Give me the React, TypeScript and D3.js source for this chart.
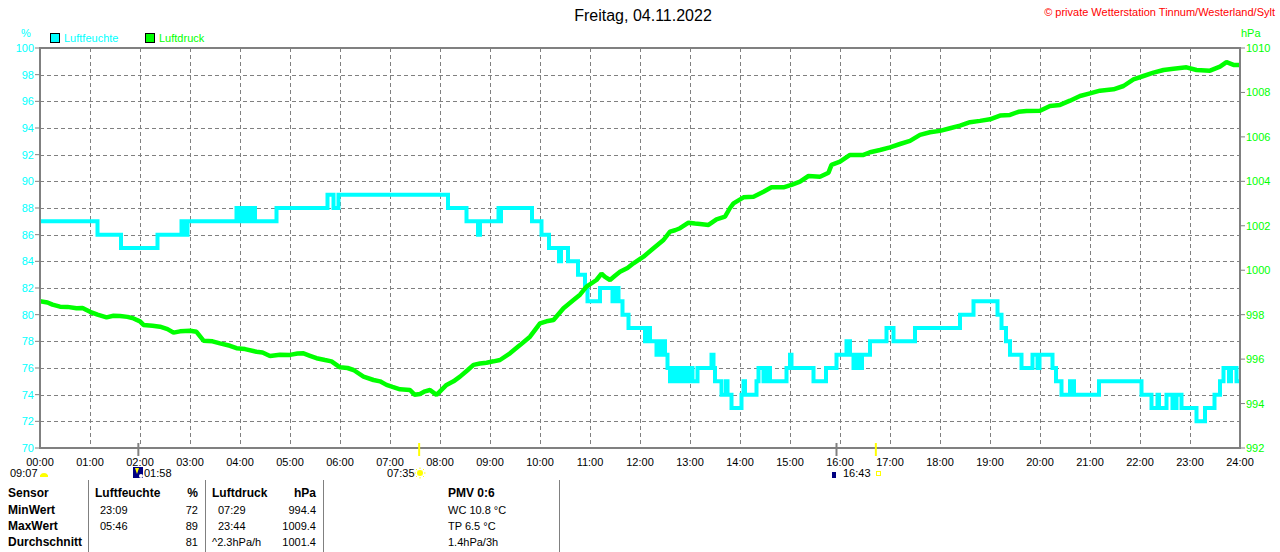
import { useEffect, useRef } from 'react';
import * as d3 from 'd3';

const hourTicks = d3.range(0, 25);
const humTicks = d3.range(70, 101, 2);
const pressTicks = d3.range(992, 1011, 2);

// [hour, %] step values
const humidity: [number, number][] = [
  [0, 87], [1.15, 86], [1.62, 85], [2.35, 86], [2.83, 87], [2.86, 86], [2.9, 87], [2.93, 86], [2.95, 87],
  [3.93, 88], [3.98, 87], [4.02, 88], [4.08, 87], [4.12, 88], [4.18, 87], [4.22, 88], [4.3, 87],
  [4.73, 88], [5.75, 89], [5.87, 88], [5.97, 89], [8.16, 88], [8.53, 87], [8.76, 86], [8.8, 87],
  [9.17, 88], [9.2, 87], [9.22, 88], [9.84, 87], [10.03, 86], [10.18, 85], [10.38, 84], [10.42, 85],
  [10.56, 84], [10.76, 83], [10.9, 82], [10.95, 81], [11.2, 82], [11.45, 81], [11.53, 82], [11.57, 81],
  [11.65, 80], [11.77, 79], [12.1, 78], [12.17, 79], [12.2, 78], [12.33, 77], [12.37, 78], [12.42, 77],
  [12.47, 78], [12.5, 77], [12.55, 76], [12.6, 75], [12.65, 76], [12.7, 75], [12.78, 76], [12.82, 75],
  [12.88, 76], [12.95, 75], [13.0, 76], [13.05, 75], [13.15, 76], [13.43, 77], [13.47, 76], [13.5, 75],
  [13.63, 74], [13.72, 75], [13.75, 74], [13.83, 73], [14.03, 74], [14.07, 75], [14.1, 74], [14.33, 75],
  [14.37, 76], [14.47, 75], [14.55, 76], [14.6, 75], [14.93, 76], [15.0, 77], [15.03, 76], [15.47, 75],
  [15.72, 76], [15.93, 77], [16.13, 78], [16.2, 77], [16.27, 76], [16.33, 77], [16.38, 76], [16.44, 77],
  [16.6, 78], [16.93, 79], [17.07, 78], [17.5, 79], [18.4, 80], [18.67, 81], [19.15, 80], [19.23, 79],
  [19.32, 78], [19.4, 77], [19.63, 76], [19.85, 77], [19.95, 76], [19.99, 77], [20.25, 76], [20.32, 75],
  [20.43, 74], [20.6, 75], [20.68, 74], [21.18, 75], [22.03, 74], [22.23, 73], [22.35, 74], [22.38, 73],
  [22.53, 74], [22.65, 73], [22.73, 74], [22.83, 73], [23.13, 72], [23.3, 73], [23.49, 74], [23.6, 75],
  [23.67, 76], [23.78, 75], [23.82, 76], [23.93, 75], [24, 75],
];

// [hour, hPa]
const pressure: [number, number][] = [
  [0, 998.6], [0.15, 998.55], [0.25, 998.45], [0.4, 998.36], [0.55, 998.35], [0.73, 998.29], [0.85, 998.3],
  [1.0, 998.13], [1.15, 998.0], [1.33, 997.88], [1.47, 997.95], [1.6, 997.94], [1.75, 997.9], [1.87, 997.83],
  [2.0, 997.7], [2.07, 997.54], [2.25, 997.5], [2.4, 997.46], [2.55, 997.35], [2.67, 997.19], [2.8, 997.25],
  [3.0, 997.28], [3.13, 997.23], [3.27, 996.83], [3.45, 996.8], [3.6, 996.71], [3.8, 996.6], [3.93, 996.49],
  [4.1, 996.45], [4.33, 996.33], [4.45, 996.3], [4.6, 996.14], [4.8, 996.2], [5.0, 996.19], [5.15, 996.25],
  [5.27, 996.26], [5.4, 996.15], [5.53, 996.04], [5.7, 995.96], [5.83, 995.9], [6.0, 995.63], [6.15, 995.6],
  [6.27, 995.51], [6.47, 995.21], [6.67, 995.06], [6.8, 995.0], [6.93, 994.84], [7.05, 994.75], [7.2, 994.64],
  [7.4, 994.61], [7.49, 994.4], [7.6, 994.43], [7.7, 994.55], [7.8, 994.61], [7.93, 994.39], [8.13, 994.84],
  [8.27, 995.0], [8.4, 995.21], [8.55, 995.5], [8.67, 995.74], [8.8, 995.8], [8.93, 995.84], [9.07, 995.9],
  [9.2, 995.96], [9.4, 996.26], [9.6, 996.63], [9.8, 997.01], [10.0, 997.61], [10.13, 997.7], [10.27, 997.76],
  [10.47, 998.29], [10.67, 998.66], [10.8, 998.9], [10.93, 999.26], [11.13, 999.56], [11.23, 999.85],
  [11.3, 999.7], [11.4, 999.56], [11.5, 999.75], [11.6, 999.93], [11.75, 1000.1], [11.87, 1000.31],
  [12.07, 1000.61], [12.27, 1000.99], [12.47, 1001.36], [12.6, 1001.74], [12.7, 1001.8], [12.8, 1001.89],
  [12.97, 1002.14], [13.1, 1002.1], [13.2, 1002.08], [13.37, 1002.04], [13.53, 1002.29], [13.7, 1002.41],
  [13.8, 1002.8], [13.87, 1003.01], [14.07, 1003.28], [14.27, 1003.31], [14.47, 1003.53], [14.63, 1003.73],
  [14.87, 1003.73], [15.03, 1003.84], [15.2, 1003.99], [15.37, 1004.24], [15.6, 1004.21], [15.77, 1004.39],
  [15.83, 1004.74], [16.0, 1004.89], [16.2, 1005.19], [16.47, 1005.19], [16.6, 1005.31], [16.8, 1005.41],
  [17.0, 1005.53], [17.2, 1005.68], [17.4, 1005.82], [17.6, 1006.09], [17.8, 1006.21], [18.0, 1006.27],
  [18.2, 1006.39], [18.4, 1006.51], [18.6, 1006.66], [18.8, 1006.72], [19.0, 1006.79], [19.2, 1006.96],
  [19.4, 1006.99], [19.57, 1007.13], [19.73, 1007.17], [20.0, 1007.18], [20.2, 1007.39], [20.4, 1007.44],
  [20.6, 1007.63], [20.8, 1007.84], [21.0, 1007.96], [21.2, 1008.08], [21.47, 1008.14], [21.67, 1008.29],
  [21.87, 1008.59], [22.07, 1008.74], [22.27, 1008.89], [22.47, 1009.01], [22.67, 1009.07], [22.93, 1009.13],
  [23.13, 1009.01], [23.4, 1008.98], [23.6, 1009.16], [23.73, 1009.36], [23.87, 1009.24], [24.0, 1009.24],
];

// sun / moon markers on the time axis
const markers = [
  { t: 1.967, color: '#808080' },
  { t: 7.583, color: '#ffff00' },
  { t: 15.93, color: '#808080' },
  { t: 16.717, color: '#ffff00' },
];

const rowLabels = ['Sensor', 'MinWert', 'MaxWert', 'Durchschnitt'];
const humTimes = ['Luftfeuchte', '23:09', '05:46', ''];
const humVals = ['%', '72', '89', '81'];
const pressTimes = ['Luftdruck', '07:29', '23:44', '^2.3hPa/h'];
const pressVals = ['hPa', '994.4', '1009.4', '1001.4'];
const extra = ['PMV 0:6', 'WC 10.8 °C', 'TP 6.5 °C', '1.4hPa/3h'];

const CYAN = '#00ffff';
const GREEN = '#00ff00';
const GRID = '#808080';
const FONT = '"Liberation Sans", Arial, sans-serif';

export default function App() {
  const svgRef = useRef<SVGSVGElement>(null);

  useEffect(() => {
    if (!svgRef.current) return;
    const svg = d3.select(svgRef.current);
    svg.selectAll('*').remove();

    const left = 40, right = 1240, top = 48, bottom = 448;
    const x = d3.scaleLinear().domain([0, 24]).range([left, right]);
    const yH = d3.scaleLinear().domain([70, 100]).range([bottom, top]);
    const yP = d3.scaleLinear().domain([992, 1010]).range([bottom, top]);

    svg.append('rect').attr('width', 1280).attr('height', 552).attr('fill', '#fff');

    // title + copyright
    svg.append('text').attr('x', 643).attr('y', 21).attr('text-anchor', 'middle')
      .attr('font-size', 16).attr('fill', '#000').text('Freitag, 04.11.2022');
    svg.append('text').attr('x', 1275).attr('y', 16).attr('text-anchor', 'end')
      .attr('font-size', 11).attr('fill', '#ff0000').text('© private Wetterstation Tinnum/Westerland/Sylt');

    // legend
    const legend = [
      { label: 'Luftfeuchte', color: CYAN, x: 50 },
      { label: 'Luftdruck', color: GREEN, x: 145 },
    ];
    legend.forEach(l => {
      svg.append('rect').attr('x', l.x + 0.5).attr('y', 33.5).attr('width', 9).attr('height', 9)
        .attr('fill', l.color).attr('stroke', '#000').attr('stroke-width', 1);
      svg.append('text').attr('x', l.x + 14).attr('y', 42).attr('font-size', 11)
        .attr('fill', l.color).text(l.label);
    });

    svg.append('text').attr('x', 26).attr('y', 37).attr('text-anchor', 'middle')
      .attr('font-size', 11).attr('fill', CYAN).text('%');
    svg.append('text').attr('x', 1241).attr('y', 37)
      .attr('font-size', 11).attr('fill', GREEN).text('hPa');

    // grid
    const grid = svg.append('g').attr('stroke', GRID).attr('stroke-width', 1).attr('stroke-dasharray', '4,3');
    hourTicks.slice(1, -1).forEach(h => {
      grid.append('line').attr('x1', Math.round(x(h)) + 0.5).attr('x2', Math.round(x(h)) + 0.5)
        .attr('y1', top).attr('y2', bottom);
    });
    humTicks.slice(1, -1).forEach(v => {
      grid.append('line').attr('x1', left).attr('x2', right)
        .attr('y1', Math.round(yH(v)) + 0.5).attr('y2', Math.round(yH(v)) + 0.5);
    });

    // left axis ticks / labels
    humTicks.forEach(v => {
      svg.append('line').attr('x1', left - 5).attr('x2', left).attr('y1', yH(v)).attr('y2', yH(v))
        .attr('stroke', GRID).attr('stroke-width', 1);
      svg.append('text').attr('x', 34).attr('y', yH(v) + 4).attr('text-anchor', 'end')
        .attr('font-size', 11).attr('fill', CYAN).text(v);
    });

    // right axis ticks / labels
    pressTicks.forEach(v => {
      svg.append('line').attr('x1', right).attr('x2', right + 5).attr('y1', yP(v)).attr('y2', yP(v))
        .attr('stroke', GRID).attr('stroke-width', 1);
      svg.append('text').attr('x', 1246).attr('y', yP(v) + 4)
        .attr('font-size', 11).attr('fill', GREEN).text(v);
    });

    // time labels
    hourTicks.forEach(h => {
      svg.append('text').attr('x', x(h)).attr('y', 466).attr('text-anchor', 'middle')
        .attr('font-size', 11).attr('fill', '#000')
        .text(`${String(h).padStart(2, '0')}:00`);
    });

    // data lines
    const humLine = d3.line<[number, number]>()
      .x(d => x(d[0])).y(d => yH(d[1])).curve(d3.curveStepAfter);
    const pressLine = d3.line<[number, number]>()
      .x(d => x(d[0])).y(d => yP(d[1]));

    const clip = svg.append('defs').append('clipPath').attr('id', 'plot-clip');
    clip.append('rect').attr('x', left).attr('y', top - 4).attr('width', right - left).attr('height', bottom - top + 8);

    svg.append('path').datum(humidity).attr('d', humLine).attr('fill', 'none')
      .attr('stroke', CYAN).attr('stroke-width', 4).attr('clip-path', 'url(#plot-clip)');
    svg.append('path').datum(pressure).attr('d', pressLine).attr('fill', 'none')
      .attr('stroke', GREEN).attr('stroke-width', 4.5).attr('stroke-linejoin', 'bevel')
      .attr('clip-path', 'url(#plot-clip)');

    // frame
    svg.append('rect').attr('x', left).attr('y', top).attr('width', right - left).attr('height', bottom - top)
      .attr('fill', 'none').attr('stroke', GRID).attr('stroke-width', 2);

    // sun / moon markers
    markers.forEach(m => {
      svg.append('line').attr('x1', x(m.t)).attr('x2', x(m.t)).attr('y1', 443).attr('y2', 456)
        .attr('stroke', m.color).attr('stroke-width', 2);
    });

    // second row: sunshine duration, moonrise, sunrise, sunset
    const row2 = 477;
    svg.append('text').attr('x', 10).attr('y', row2).attr('font-size', 11).attr('fill', '#000').text('09:07');
    svg.append('path').attr('d', 'M40,477 A4,4 0 0 1 48,477 Z').attr('fill', '#ffff00');
    svg.append('rect').attr('x', 40).attr('y', 475).attr('width', 8).attr('height', 2).attr('fill', '#ffff00');

    svg.append('rect').attr('x', 133).attr('y', 467).attr('width', 10).attr('height', 11).attr('fill', '#000080');
    svg.append('path').attr('d', 'M135,468 L139,468 L137,474 Z').attr('fill', '#ffff00');
    svg.append('circle').attr('cx', 141).attr('cy', 476).attr('r', 2).attr('fill', '#fff');
    svg.append('text').attr('x', 144).attr('y', row2).attr('font-size', 11).attr('fill', '#000').text('01:58');

    svg.append('text').attr('x', 387).attr('y', row2).attr('font-size', 11).attr('fill', '#000').text('07:35');
    const sun = svg.append('g').attr('transform', 'translate(420,473)');
    sun.append('circle').attr('r', 3).attr('fill', '#ffff00');
    d3.range(8).forEach(i => {
      const a = (i * Math.PI) / 4;
      sun.append('line').attr('x1', Math.cos(a) * 4).attr('y1', Math.sin(a) * 4)
        .attr('x2', Math.cos(a) * 5.5).attr('y2', Math.sin(a) * 5.5)
        .attr('stroke', '#ffff00').attr('stroke-width', 1);
    });

    svg.append('rect').attr('x', 832).attr('y', 472).attr('width', 4).attr('height', 6).attr('fill', '#000080');
    svg.append('text').attr('x', 843).attr('y', row2).attr('font-size', 11).attr('fill', '#000').text('16:43');
    svg.append('rect').attr('x', 876.5).attr('y', 471.5).attr('width', 4).attr('height', 4)
      .attr('fill', 'none').attr('stroke', '#ffff00').attr('stroke-width', 1);

    // table
    const rowsY = [497, 514, 530, 546];
    [88, 205, 323, 559].forEach(sx => {
      svg.append('line').attr('x1', sx + 0.5).attr('x2', sx + 0.5).attr('y1', 480).attr('y2', 552)
        .attr('stroke', GRID).attr('stroke-width', 1);
    });
    rowsY.forEach((ry, i) => {
      const head = i === 0;
      const txt = (tx: number, s: string, anchor: string, bold: boolean) =>
        svg.append('text').attr('x', tx).attr('y', ry).attr('text-anchor', anchor)
          .attr('font-size', bold ? 12 : 11).attr('font-weight', bold ? 'bold' : 'normal')
          .attr('fill', '#000').text(s);
      txt(8, rowLabels[i], 'start', true);
      txt(head ? 95 : 100, humTimes[i], 'start', head);
      txt(198, humVals[i], 'end', head);
      txt(head || i === 3 ? 212 : 218, pressTimes[i], 'start', head);
      txt(316, pressVals[i], 'end', head);
      txt(448, extra[i], 'start', head);
    });
  }, []);

  return (
    <div style={{ position: 'absolute', left: 0, top: 0 }}>
      <svg ref={svgRef} width={1280} height={552} style={{ display: 'block', fontFamily: FONT }} />
    </div>
  );
}
